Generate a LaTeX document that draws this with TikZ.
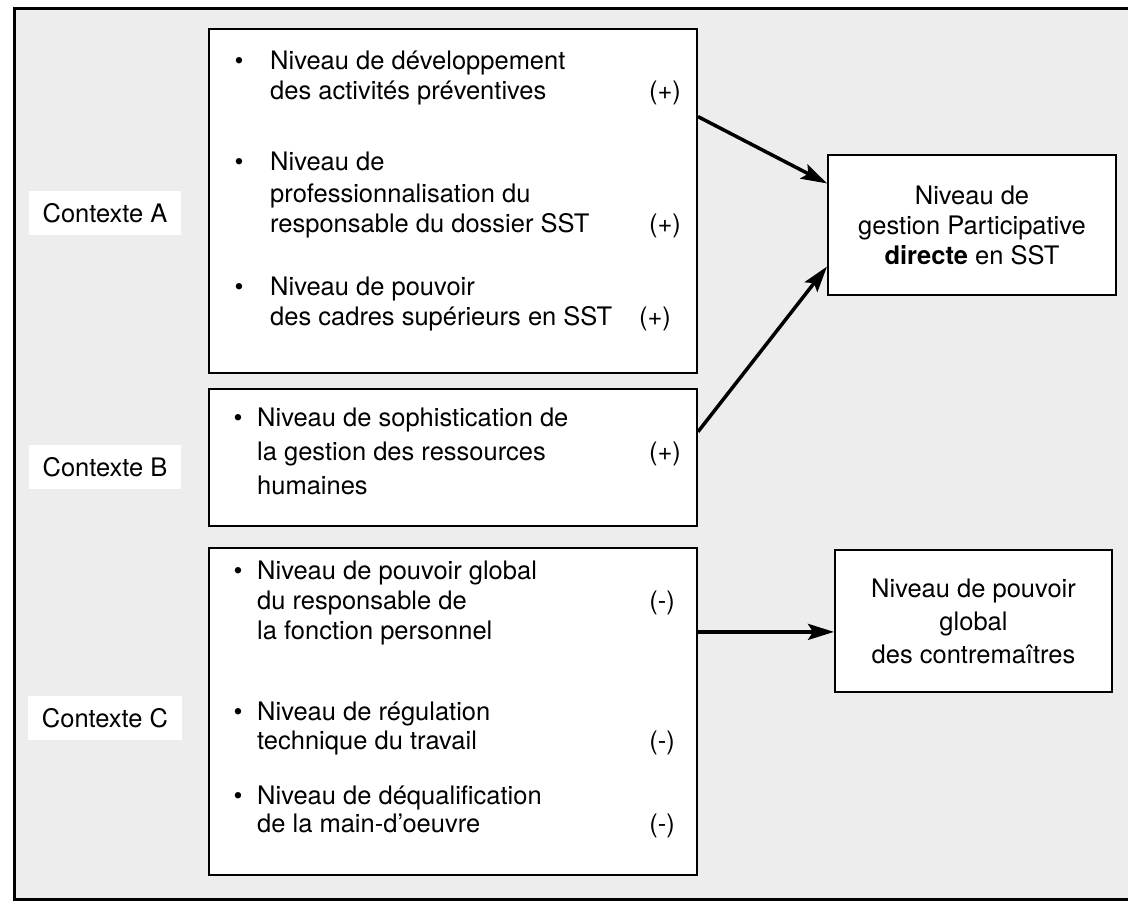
\documentclass[tikz,border=0pt]{standalone}
\usepackage{fontspec}
\setmainfont{TeX Gyre Heros}
\usetikzlibrary{arrows.meta}
\definecolor{scan}{rgb}{0.93,0.93,0.93}

\tikzset{
  ctxbox/.style={draw, line width=2pt, fill=white, inner sep=0pt},
  ligne/.style={anchor=mid west, inner sep=0pt},
  signe/.style={anchor=mid, inner sep=0pt},
  puce/.style={anchor=mid, inner sep=0pt},
  etiquette/.style={fill=white, inner xsep=14pt, inner ysep=12pt},
  fleche/.style={line width=3.5pt, -{Stealth[length=26pt,width=16pt,inset=5pt]}},
  resultat/.style={draw, line width=2pt, fill=white, align=center, inner sep=0pt}
}

\begin{document}
\begin{tikzpicture}[x=1pt,y=-1pt,font=\fontsize{25.5}{30}\selectfont]
\useasboundingbox (0,0) rectangle (1128,907);
\fill[scan] (14,9) rectangle (1128,899);
\draw[line width=3pt] (1128,9) -- (14,9) -- (14,899) -- (1128,899);

\node[ctxbox, minimum width=488pt, minimum height=344pt] (boxA) at (453,201) {};
\node[ctxbox, minimum width=488pt, minimum height=137pt] (boxB) at (453,457.5) {};
\node[ctxbox, minimum width=488pt, minimum height=327pt] (boxC) at (453,711.5) {};
\node[resultat, minimum width=288pt, minimum height=140pt] (r1) at (972,225) {};
\node[resultat, minimum width=277pt, minimum height=142pt] (r2) at (973.5,621) {};

\node[etiquette] (ctxA) at (105,213) {Contexte A};
\node[etiquette] (ctxB) at (105,467) {Contexte B};
\node[etiquette] (ctxC) at (105,718) {Contexte C};

\node[puce] (pa1) at (239,67) {\textbullet};
\node[ligne] (a11) at (270,67) {Niveau de développement};
\node[ligne] (a12) at (270,97) {des activités préventives};
\node[signe] (sa1) at (665,97) {(+)};
\node[puce] (pa2) at (239,168) {\textbullet};
\node[ligne] (a21) at (270,168) {Niveau de};
\node[ligne] (a22) at (270,200) {professionnalisation du};
\node[ligne] (a23) at (270,230) {responsable du dossier SST};
\node[signe] (sa2) at (665,230) {(+)};
\node[puce] (pa3) at (239,293) {\textbullet};
\node[ligne] (a31) at (270,293) {Niveau de pouvoir};
\node[ligne] (a32) at (270,323) {des cadres supérieurs en SST};
\node[signe] (sa3) at (655,323) {(+)};

\node[puce] (pb1) at (238,424) {\textbullet};
\node[ligne] (b11) at (257,424) {Niveau de sophistication de};
\node[ligne] (b12) at (257,458) {la gestion des ressources};
\node[signe] (sb1) at (665,458) {(+)};
\node[ligne] (b13) at (257,492) {humaines};

\node[puce] (pc1) at (238,577) {\textbullet};
\node[ligne] (c11) at (257,577) {Niveau de pouvoir global};
\node[ligne] (c12) at (257,607) {du responsable de};
\node[signe] (sc1) at (662,607) {(-)};
\node[ligne] (c13) at (257,637) {la fonction personnel};
\node[puce] (pc2) at (238,718) {\textbullet};
\node[ligne] (c21) at (257,718) {Niveau de régulation};
\node[ligne] (c22) at (257,747) {technique du travail};
\node[signe] (sc2) at (662,747) {(-)};
\node[puce] (pc3) at (238,802) {\textbullet};
\node[ligne] (c31) at (257,802) {Niveau de déqualification};
\node[ligne] (c32) at (257,830) {de la main-d'oeuvre};
\node[signe] (sc3) at (662,830) {(-)};

\node[align=center, inner sep=0pt] (t1) at (r1) {Niveau de\\gestion Participative\\\textbf{directe} en SST};
\node[align=center, inner sep=0pt, font=\fontsize{25.5}{33}\selectfont] (t2) at (r2) {Niveau de pouvoir\\global\\des contremaîtres};

\draw[fleche] (boxA.19) -- (r1.164.5);
\draw[fleche] (boxB.6) -- (r1.196.3);
\draw[fleche] (boxC.18.7) -- (boxC.18.7 -| r2.west);
\end{tikzpicture}
\end{document}
